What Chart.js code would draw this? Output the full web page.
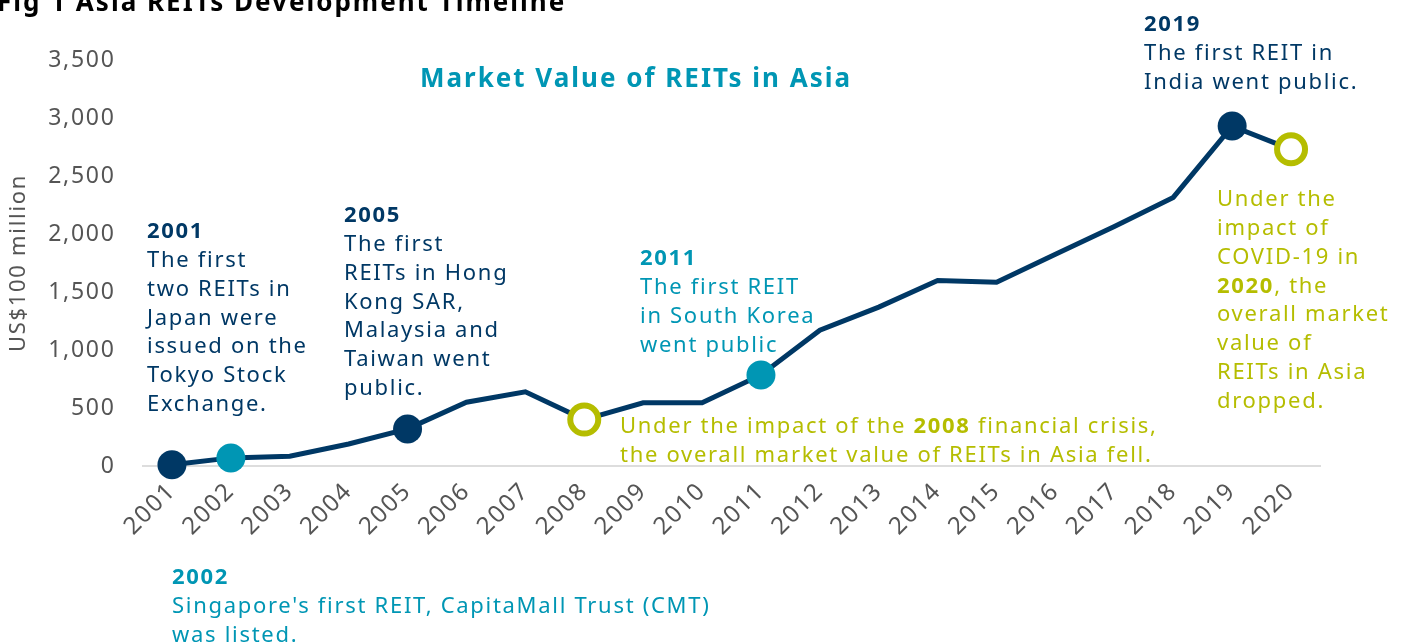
<!DOCTYPE html>
<html>
<head>
<meta charset="utf-8">
<script src="https://cdn.jsdelivr.net/npm/chart.js@4"></script>
<style>
  html, body { margin: 0; padding: 0; background: #fff; }
  #wrap { position: relative; width: 1403px; height: 644px; }
</style>
</head>
<body>
<div id="wrap"><canvas id="reits"></canvas></div>
<script>
// data (US$100 million)
const years = ['2001', '2002', '2003', '2004', '2005', '2006', '2007', '2008', '2009', '2010',
  '2011', '2012', '2013', '2014', '2015', '2016', '2017', '2018', '2019', '2020'];
const marketValue = [10, 70, 85, 190, 320, 550, 640, 400, 545, 545,
  785, 1170, 1370, 1600, 1585, 1825, 2065, 2315, 2930, 2730];
// which years get a marker: 'navy', 'teal', 'ring' or none
const markerKind = ['navy', 'teal', '', '', 'navy', '', '', 'ring', '', '',
  'teal', '', '', '', '', '', '', '', 'navy', 'ring'];
const yTicks = [0, 500, 1000, 1500, 2000, 2500, 3000, 3500];

const NAVY = '#003865';
const TEAL = '#0096b4';
const LIME = '#b5bd00';
const GREY = '#555555';
const FONT = '"Noto Sans", sans-serif';
const SPACING = '1.7px'; // the source face is wider than Noto Sans

const fillFor = k => (k === 'navy' ? NAVY : k === 'teal' ? TEAL : k === 'ring' ? '#ffffff' : NAVY);

// annotation blocks: each line is a list of [text, bold]
const notes = [
  { x: 147, y: 232, color: NAVY, lines: [
    [['2001', true]], [['The first', false]], [['two REITs in', false]], [['Japan were', false]],
    [['issued on the', false]], [['Tokyo Stock', false]], [['Exchange.', false]]] },
  { x: 344, y: 216, color: NAVY, lines: [
    [['2005', true]], [['The first', false]], [['REITs in Hong', false]], [['Kong SAR,', false]],
    [['Malaysia and', false]], [['Taiwan went', false]], [['public.', false]]] },
  { x: 640, y: 259, color: TEAL, lines: [
    [['2011', true]], [['The first REIT', false]], [['in South Korea', false]], [['went public', false]]] },
  { x: 620, y: 427, color: LIME, lines: [
    [['Under the impact of the ', false], ['2008', true], [' financial crisis,', false]],
    [['the overall market value of REITs in Asia fell.', false]]] },
  { x: 1144, y: 25, color: NAVY, lines: [
    [['2019', true]], [['The first REIT in', false]], [['India went public.', false]]] },
  { x: 1217, y: 200, color: LIME, lines: [
    [['Under the', false]], [['impact of', false]], [['COVID-19 in', false]],
    [['2020', true], [', the', false]], [['overall market', false]], [['value of', false]],
    [['REITs in Asia', false]], [['dropped.', false]]] },
  { x: 172, y: 578, color: TEAL, lines: [
    [['2002', true]], [["Singapore's first REIT, CapitaMall Trust (CMT)", false]], [['was listed.', false]]] }
];

const spacingPlugin = {
  id: 'spacing',
  beforeLayout(chart) { chart.ctx.letterSpacing = SPACING; },
  beforeDraw(chart) { chart.ctx.letterSpacing = SPACING; }
};

const notesPlugin = {
  id: 'notes',
  afterDraw(chart) {
    const ctx = chart.ctx;
    ctx.save();
    ctx.textBaseline = 'middle';
    ctx.textAlign = 'left';
    // figure heading, cut by the top edge as in the source
    ctx.letterSpacing = '2px';
    ctx.fillStyle = '#000';
    ctx.font = 'bold 26px ' + FONT;
    ctx.fillText('Fig 1 Asia REITs Development Timeline', -3, 4);
    // chart title
    ctx.fillStyle = TEAL;
    ctx.textAlign = 'center';
    ctx.fillText('Market Value of REITs in Asia', 636, 80);
    ctx.textAlign = 'left';
    ctx.letterSpacing = SPACING;
    notes.forEach(n => {
      ctx.fillStyle = n.color;
      n.lines.forEach((segs, i) => {
        let x = n.x;
        segs.forEach(([t, b]) => {
          ctx.font = (b ? 'bold ' : '') + '22px ' + FONT;
          ctx.fillText(t, x, n.y + i * 28.8);
          x += ctx.measureText(t).width;
        });
      });
    });
    ctx.restore();
  }
};

new Chart(document.getElementById('reits'), {
  type: 'line',
  data: {
    labels: years,
    datasets: [{
      label: 'Market Value of REITs in Asia',
      data: marketValue,
      borderColor: NAVY,
      borderWidth: 5,
      tension: 0,
      clip: false,
      pointRadius: markerKind.map(k => (k === 'ring' ? 14 : k ? 14.5 : 0)),
      pointHoverRadius: markerKind.map(k => (k === 'ring' ? 14 : k ? 14.5 : 0)),
      pointBackgroundColor: markerKind.map(fillFor),
      pointBorderColor: markerKind.map(k => (k === 'ring' ? LIME : fillFor(k))),
      pointBorderWidth: markerKind.map(k => (k === 'ring' ? 6 : 0))
    }]
  },
  options: {
    responsive: true,
    maintainAspectRatio: false,
    animation: false,
    layout: { padding: { top: 60, right: 82.5, left: 0, bottom: 0 } },
    plugins: {
      legend: { display: false },
      tooltip: { enabled: false }
    },
    scales: {
      x: {
        offset: true,
        grid: { display: false, drawTicks: false },
        border: { display: true, color: '#dddddd', width: 2 },
        ticks: {
          color: GREY,
          font: { family: FONT, size: 24 },
          minRotation: 45,
          maxRotation: 45,
          padding: 11,
          autoSkip: false
        },
        afterFit(scale) { scale.height = 178; }
      },
      y: {
        min: 0,
        max: 3500,
        grid: { display: false, drawTicks: false },
        border: { display: false },
        afterBuildTicks(scale) { scale.ticks = yTicks.map(v => ({ value: v })); },
        ticks: {
          color: GREY,
          font: { family: FONT, size: 23 },
          padding: 27,
          callback: v => v.toLocaleString('en-US')
        },
        title: {
          display: true,
          text: 'US$100 million',
          color: GREY,
          font: { family: FONT, size: 22 },
          padding: { top: 6, bottom: 0 }
        },
        afterFit(scale) { scale.width = 142.5; }
      }
    }
  },
  plugins: [spacingPlugin, notesPlugin]
});
</script>
</body>
</html>
